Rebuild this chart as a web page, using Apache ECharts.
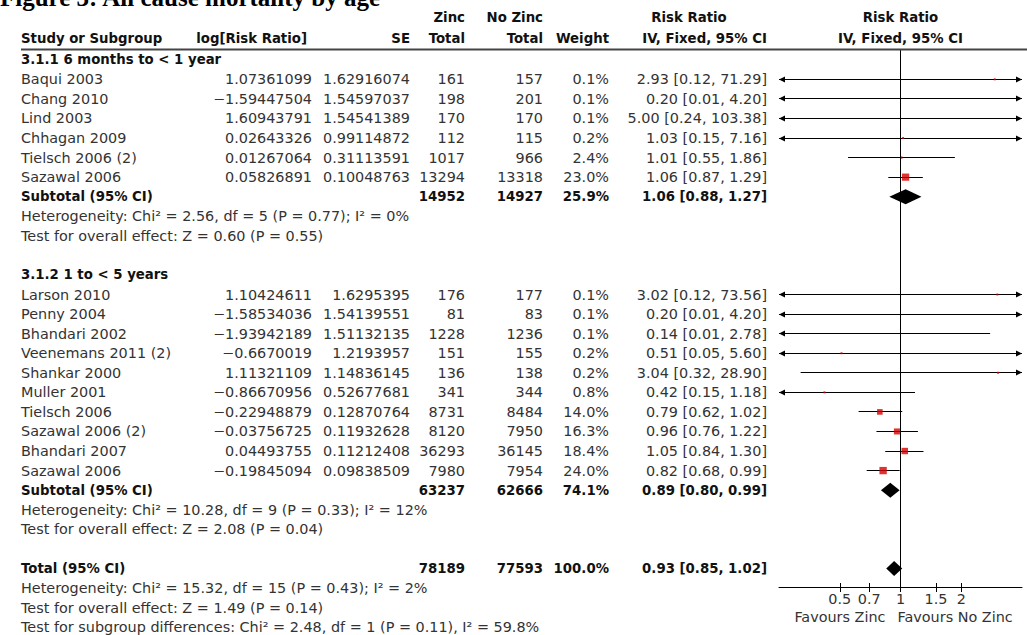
<!DOCTYPE html>
<html>
<head>
<meta charset="utf-8">
<title>All cause mortality by age</title>
<script src="https://cdn.jsdelivr.net/npm/echarts@6/dist/echarts.min.js"></script>
<style>
  html, body { margin: 0; padding: 0; background: #fff; }
  #chart { width: 1027px; height: 635px; }
</style>
</head>
<body>
<div id="chart"></div>
<script>
// ---- Data: zinc vs no zinc, all cause mortality, by age subgroup ----
const subgroupTitles = ['3.1.1 6 months to < 1 year', '3.1.2 1 to < 5 years'];

const g1Study   = ['Baqui 2003', 'Chang 2010', 'Lind 2003', 'Chhagan 2009', 'Tielsch 2006 (2)', 'Sazawal 2006'];
const g1LogRR   = [1.07361099, -1.59447504, 1.60943791, 0.02643326, 0.01267064, 0.05826891];
const g1SE      = [1.62916074, 1.54597037, 1.54541389, 0.99114872, 0.31113591, 0.10048763];
const g1Zinc    = [161, 198, 170, 112, 1017, 13294];
const g1NoZinc  = [157, 201, 170, 115, 966, 13318];
const g1Weight  = [0.1, 0.1, 0.1, 0.2, 2.4, 23.0];
const g1RR      = [2.93, 0.20, 5.00, 1.03, 1.01, 1.06];
const g1Lower   = [0.12, 0.01, 0.24, 0.15, 0.55, 0.87];
const g1Upper   = [71.29, 4.20, 103.38, 7.16, 1.86, 1.29];

const g2Study   = ['Larson 2010', 'Penny 2004', 'Bhandari 2002', 'Veenemans 2011 (2)', 'Shankar 2000',
                   'Muller 2001', 'Tielsch 2006', 'Sazawal 2006 (2)', 'Bhandari 2007', 'Sazawal 2006'];
const g2LogRR   = [1.10424611, -1.58534036, -1.93942189, -0.6670019, 1.11321109,
                   -0.86670956, -0.22948879, -0.03756725, 0.04493755, -0.19845094];
const g2SE      = [1.6295395, 1.54139551, 1.51132135, 1.2193957, 1.14836145,
                   0.52677681, 0.12870764, 0.11932628, 0.11212408, 0.09838509];
const g2Zinc    = [176, 81, 1228, 151, 136, 341, 8731, 8120, 36293, 7980];
const g2NoZinc  = [177, 83, 1236, 155, 138, 344, 8484, 7950, 36145, 7954];
const g2Weight  = [0.1, 0.1, 0.1, 0.2, 0.2, 0.8, 14.0, 16.3, 18.4, 24.0];
const g2RR      = [3.02, 0.20, 0.14, 0.51, 3.04, 0.42, 0.79, 0.96, 1.05, 0.82];
const g2Lower   = [0.12, 0.01, 0.01, 0.05, 0.32, 0.15, 0.62, 0.76, 0.84, 0.68];
const g2Upper   = [73.56, 4.20, 2.78, 5.60, 28.90, 1.18, 1.02, 1.22, 1.30, 0.99];

const subZinc    = [14952, 63237];
const subNoZinc  = [14927, 62666];
const subWeight  = [25.9, 74.1];
const subRR      = [1.06, 0.89];
const subLower   = [0.88, 0.80];
const subUpper   = [1.27, 0.99];
const subHeterogeneity = ['Heterogeneity: Chi\u00B2 = 2.56, df = 5 (P = 0.77); I\u00B2 = 0%',
                          'Heterogeneity: Chi\u00B2 = 10.28, df = 9 (P = 0.33); I\u00B2 = 12%'];
const subOverall = ['Test for overall effect: Z = 0.60 (P = 0.55)',
                    'Test for overall effect: Z = 2.08 (P = 0.04)'];

const totalZinc = 78189;
const totalNoZinc = 77593;
const totalWeight = 100.0;
const totalRR = 0.93;
const totalLower = 0.85;
const totalUpper = 1.02;
const totalNotes = ['Heterogeneity: Chi\u00B2 = 15.32, df = 15 (P = 0.43); I\u00B2 = 2%',
                    'Test for overall effect: Z = 1.49 (P = 0.14)',
                    'Test for subgroup differences: Chi\u00B2 = 2.48, df = 1 (P = 0.11), I\u00B2 = 59.8%'];

const axisTicks = [0.5, 0.7, 1, 1.5, 2];
const axisLabels = ['0.5', '0.7', '1', '1.5', '2'];
const X_MIN = 0.25, X_MAX = 4;

// ---- Table layout ----
const FONT = '"DejaVu Sans", sans-serif';
const NORMAL_SIZE = 14.4;
const BOLD_SIZE = 13.3;
const TEXT_COLOR = '#333';
const BOLD_COLOR = '#111';

const fmtSigned = v => String(v).replace('-', '\u2212');
const fmtPct = v => v.toFixed(1) + '%';
const fmtCI = (rr, lo, hi) => `${rr.toFixed(2)} [${lo.toFixed(2)}, ${hi.toFixed(2)}]`;

const groups = [
  { study: g1Study, logRR: g1LogRR, se: g1SE, zinc: g1Zinc, noZinc: g1NoZinc, weight: g1Weight, rr: g1RR, lo: g1Lower, hi: g1Upper },
  { study: g2Study, logRR: g2LogRR, se: g2SE, zinc: g2Zinc, noZinc: g2NoZinc, weight: g2Weight, rr: g2RR, lo: g2Lower, hi: g2Upper }
];

// one entry per table line: row index + cells
const lines = [];
const ciData = [];       // [lower, upper, row]
const squareData = [];   // [rr, row, weight]
const diamondData = [];  // [rr, lower, upper, row]
let row = 0;
groups.forEach((g, gi) => {
  lines.push({ row: row, bold: true, name: subgroupTitles[gi] });
  row++;
  g.study.forEach((name, i) => {
    lines.push({
      row: row, bold: false, name: name,
      logRR: fmtSigned(g.logRR[i]), se: String(g.se[i]),
      zinc: String(g.zinc[i]), noZinc: String(g.noZinc[i]),
      weight: fmtPct(g.weight[i]), ci: fmtCI(g.rr[i], g.lo[i], g.hi[i])
    });
    ciData.push([g.lo[i], g.hi[i], row]);
    squareData.push([g.rr[i], row, g.weight[i]]);
    row++;
  });
  lines.push({
    row: row, bold: true, name: 'Subtotal (95% CI)',
    zinc: String(subZinc[gi]), noZinc: String(subNoZinc[gi]),
    weight: fmtPct(subWeight[gi]), ci: fmtCI(subRR[gi], subLower[gi], subUpper[gi])
  });
  diamondData.push([subRR[gi], subLower[gi], subUpper[gi], row]);
  row++;
  lines.push({ row: row++, bold: false, name: subHeterogeneity[gi] });
  lines.push({ row: row++, bold: false, name: subOverall[gi] });
  row++; // spacer
});
const totalRow = row;
lines.push({
  row: totalRow, bold: true, name: 'Total (95% CI)',
  zinc: String(totalZinc), noZinc: String(totalNoZinc),
  weight: fmtPct(totalWeight), ci: fmtCI(totalRR, totalLower, totalUpper)
});
diamondData.push([totalRR, totalLower, totalUpper, totalRow]);
row++;
totalNotes.forEach(t => lines.push({ row: row++, bold: false, name: t }));

// column anchors (pixel x, alignment)
const columns = [
  { key: 'name',   x: 21,  align: 'left'  },
  { key: 'logRR',  x: 312, align: 'right' },
  { key: 'se',     x: 410, align: 'right' },
  { key: 'zinc',   x: 465, align: 'right' },
  { key: 'noZinc', x: 543, align: 'right' },
  { key: 'weight', x: 609, align: 'right' },
  { key: 'ci',     x: 767, align: 'right' }
];

// ---- Forest plot ----
const GRID = { left: 779, top: 49, width: 243, height: 538 };
const chart = echarts.init(document.getElementById('chart'), null, { renderer: 'svg' });

function crisp(v) { return Math.round(v - 0.5) + 0.5; }

function renderCI(params, api) {
  const lo = api.value(0), hi = api.value(1), r = api.value(2);
  const a = api.coord([Math.max(lo, X_MIN), r]);
  const b = api.coord([Math.min(hi, X_MAX), r]);
  const y = crisp(a[1]);
  const children = [{
    type: 'line',
    shape: { x1: a[0], y1: y, x2: b[0], y2: y },
    style: { stroke: '#000', lineWidth: 1 }
  }];
  if (lo < X_MIN) {
    children.push({ type: 'polygon', shape: { points: [[a[0], y], [a[0] + 6, y - 3], [a[0] + 6, y + 3]] }, style: { fill: '#000' } });
  }
  if (hi > X_MAX) {
    children.push({ type: 'polygon', shape: { points: [[b[0], y], [b[0] - 6, y - 3], [b[0] - 6, y + 3]] }, style: { fill: '#000' } });
  }
  return { type: 'group', children: children };
}

function renderDiamond(params, api) {
  const r = api.value(3);
  const c = api.coord([api.value(0), r]);
  const l = api.coord([api.value(1), r]);
  const h = api.coord([api.value(2), r]);
  const half = 7.5;
  return {
    type: 'polygon',
    shape: { points: [[l[0], c[1]], [c[0], c[1] - half], [h[0], c[1]], [c[0], c[1] + half]] },
    style: { fill: '#000' }
  };
}

const tickLabel = v => {
  const i = axisTicks.indexOf(v);
  return i >= 0 ? axisLabels[i] : String(v);
};

const option = {
  animation: false,
  backgroundColor: '#fff',
  grid: Object.assign({ containLabel: false }, GRID),
  xAxis: [
    {
      // main axis: line, labels and the lower half of the ticks
      type: 'log', logBase: 10, min: X_MIN, max: X_MAX, position: 'bottom',
      axisLine: { show: true, onZero: false, lineStyle: { color: '#000', width: 1 } },
      axisTick: { show: true, inside: false, length: 5, customValues: axisTicks, lineStyle: { color: '#000', width: 1 } },
      axisLabel: {
        show: true, customValues: axisTicks, hideOverlap: false, margin: 5,
        formatter: tickLabel,
        color: TEXT_COLOR, fontSize: NORMAL_SIZE, fontFamily: FONT
      },
      splitLine: { show: false }, minorTick: { show: false }
    },
    {
      // companion axis moved down onto the main one: upper half of the ticks
      type: 'log', logBase: 10, min: X_MIN, max: X_MAX, position: 'top', offset: -GRID.height,
      axisLine: { show: false },
      axisTick: { show: true, inside: false, length: 4, customValues: axisTicks, lineStyle: { color: '#000', width: 1 } },
      axisLabel: { show: false },
      splitLine: { show: false }
    }
  ],
  yAxis: {
    type: 'value', inverse: true, min: -0.55, max: totalRow + 0.95, show: false,
    splitLine: { show: false }
  },
  series: [
    {
      type: 'custom', name: 'CI', xAxisIndex: 0, renderItem: renderCI,
      encode: { x: [0, 1], y: 2 }, data: ciData, silent: true, clip: false,
      markLine: {
        silent: true, symbol: ['none', 'none'], label: { show: false },
        lineStyle: { color: '#000', width: 1, type: 'solid' },
        data: [{ xAxis: 1 }]
      }
    },
    {
      type: 'scatter', name: 'Study', xAxisIndex: 0, symbol: 'rect',
      symbolSize: v => Math.max(2, 1.5 * Math.sqrt(v[2])),
      itemStyle: { color: '#d40000' }, data: squareData, silent: true
    },
    {
      type: 'custom', name: 'Pooled', xAxisIndex: 0, renderItem: renderDiamond,
      encode: { x: [0, 1, 2], y: 3 }, data: diamondData, silent: true
    }
  ]
};
chart.setOption(option);

// ---- Table text, aligned to plot rows ----
function text(x, y, str, opts) {
  opts = opts || {};
  return {
    type: 'text', x: x, y: y, silent: true, z: 10,
    style: {
      text: str,
      fill: opts.fill || (opts.bold ? BOLD_COLOR : TEXT_COLOR),
      fontFamily: opts.family || FONT,
      fontSize: opts.size || (opts.bold ? BOLD_SIZE : NORMAL_SIZE),
      fontWeight: opts.bold ? 'bold' : 'normal',
      align: opts.align || 'left',
      verticalAlign: opts.valign || 'middle'
    }
  };
}

const elements = [];
// title
elements.push(text(0, -3, 'Figure 3: All cause mortality by age',
  { bold: true, size: 25, fill: '#000', family: '"Liberation Serif", "Times New Roman", serif' }));

// header rows
const hA = 17.5, hB = 38;
const x1 = chart.convertToPixel({ xAxisIndex: 0 }, 1);
elements.push(text(465, hA, 'Zinc', { bold: true, align: 'right' }));
elements.push(text(543, hA, 'No Zinc', { bold: true, align: 'right' }));
elements.push(text(689, hA, 'Risk Ratio', { bold: true, align: 'center' }));
elements.push(text(x1, hA, 'Risk Ratio', { bold: true, align: 'center' }));
elements.push(text(21, hB, 'Study or Subgroup', { bold: true }));
elements.push(text(307, hB, 'log[Risk Ratio]', { bold: true, align: 'right' }));
elements.push(text(410, hB, 'SE', { bold: true, align: 'right' }));
elements.push(text(465, hB, 'Total', { bold: true, align: 'right' }));
elements.push(text(543, hB, 'Total', { bold: true, align: 'right' }));
elements.push(text(609, hB, 'Weight', { bold: true, align: 'right' }));
elements.push(text(767, hB, 'IV, Fixed, 95% CI', { bold: true, align: 'right' }));
elements.push(text(x1, hB, 'IV, Fixed, 95% CI', { bold: true, align: 'center' }));
elements.push({
  type: 'line', silent: true, z: 10,
  shape: { x1: 21, y1: 49.5, x2: 1027, y2: 49.5 },
  style: { stroke: '#444', lineWidth: 2 }
});

// body rows
lines.forEach(ln => {
  const y = chart.convertToPixel({ yAxisIndex: 0 }, ln.row);
  columns.forEach(col => {
    if (ln[col.key] === undefined) return;
    elements.push(text(col.x, y, ln[col.key], { bold: ln.bold, align: col.align }));
  });
});

// direction labels under the axis
elements.push(text(x1 - 15, 617, 'Favours Zinc', { align: 'right' }));
elements.push(text(x1 - 3, 617, 'Favours No Zinc', { align: 'left' }));

chart.setOption({ graphic: { elements: elements } });
</script>
</body>
</html>
